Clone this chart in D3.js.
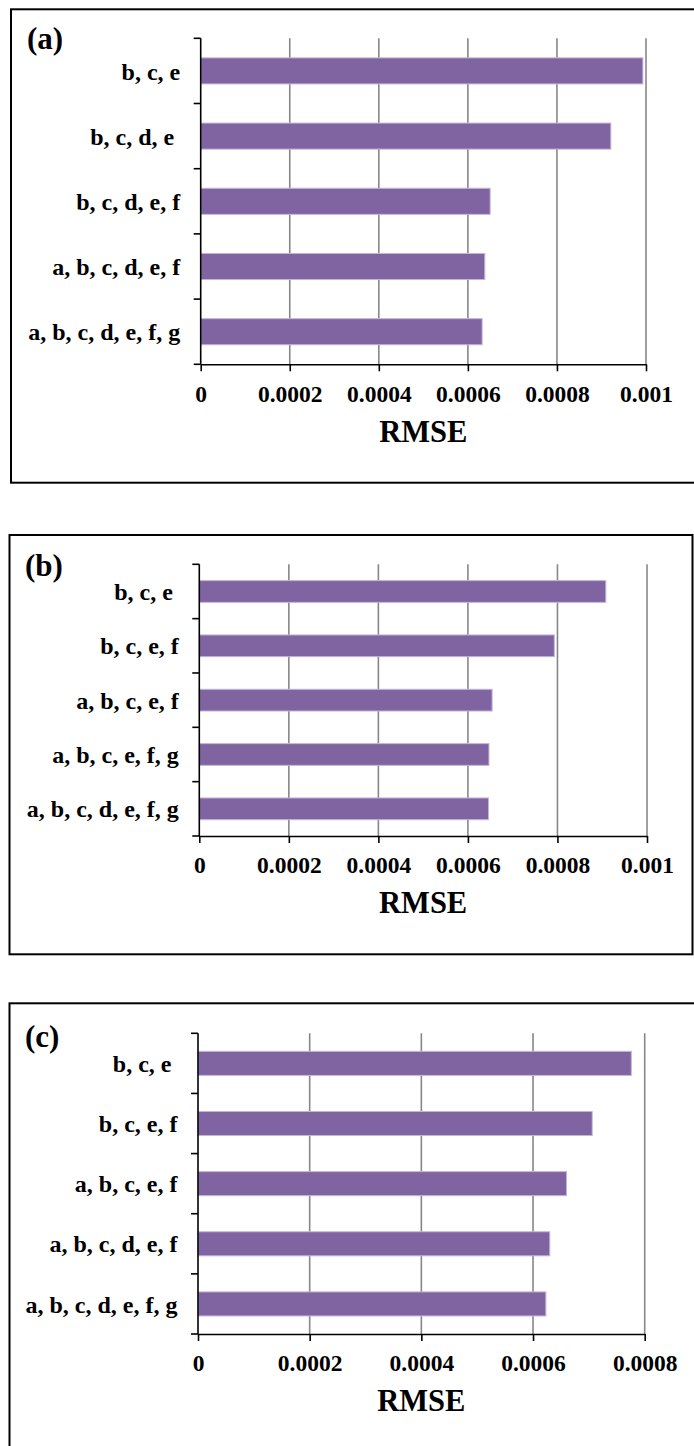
<!DOCTYPE html>
<html>
<head>
<meta charset="utf-8">
<script src="https://cdn.jsdelivr.net/npm/d3@7/dist/d3.min.js"></script>
<style>
  html, body { margin: 0; padding: 0; background: #fff; }
  svg { display: block; }
  text { font-family: "Liberation Serif", "Times New Roman", serif; font-weight: bold; fill: #000; white-space: pre; }
</style>
</head>
<body>
<svg id="chart" width="694" height="1446"></svg>
<script>
// ---------- DATA ----------
const panelLetters = ["(a)", "(b)", "(c)"];
const axisTitle = "RMSE";

const categoriesA = ["b, c, e", "b, c, d, e ", "b, c, d, e, f", "a, b, c, d, e, f", "a, b, c, d, e, f, g"];
const valuesA = [0.000993, 0.000921, 0.000650, 0.000638, 0.000632];
const ticksA = [0, 0.0002, 0.0004, 0.0006, 0.0008, 0.001];
const tickLabelsA = ["0", "0.0002", "0.0004", "0.0006", "0.0008", "0.001"];

const categoriesB = ["b, c, e ", "b, c, e, f", "a, b, c, e, f", "a, b, c, e, f, g", "a, b, c, d, e, f, g"];
const valuesB = [0.000908, 0.000793, 0.000654, 0.000647, 0.000646];
const ticksB = [0, 0.0002, 0.0004, 0.0006, 0.0008, 0.001];
const tickLabelsB = ["0", "0.0002", "0.0004", "0.0006", "0.0008", "0.001"];

const categoriesC = ["b, c, e ", "b, c, e, f", "a, b, c, e, f", "a, b, c, d, e, f", "a, b, c, d, e, f, g"];
const valuesC = [0.000776, 0.000706, 0.000660, 0.000630, 0.000623];
const ticksC = [0, 0.0002, 0.0004, 0.0006, 0.0008];
const tickLabelsC = ["0", "0.0002", "0.0004", "0.0006", "0.0008"];

// ---------- LAYOUT ----------
const panels = [
  { letter: panelLetters[0], cats: categoriesA, vals: valuesA, ticks: ticksA, tickLabels: tickLabelsA,
    box: { x: 11, y: 9.3, r: 720, b: 482.7 },
    plot: { left: 200.7, right: 646, top: 38.3, bottom: 364.3 }, letterPos: [27, 49] },
  { letter: panelLetters[1], cats: categoriesB, vals: valuesB, ticks: ticksB, tickLabels: tickLabelsB,
    box: { x: 9.5, y: 535, r: 692.5, b: 954.3 },
    plot: { left: 199.3, right: 647, top: 564.3, bottom: 836 }, letterPos: [25, 576] },
  { letter: panelLetters[2], cats: categoriesC, vals: valuesC, ticks: ticksC, tickLabels: tickLabelsC,
    box: { x: 9.5, y: 1003.3, r: 720, b: 1480 },
    plot: { left: 198, right: 644.7, top: 1033.3, bottom: 1334 }, letterPos: [25, 1046.5] }
];

const svg = d3.select("#chart");

panels.forEach(p => {
  const g = svg.append("g");
  const domainMax = p.ticks[p.ticks.length - 1];

  // border
  g.append("rect")
    .attr("x", p.box.x).attr("y", p.box.y)
    .attr("width", p.box.r - p.box.x).attr("height", p.box.b - p.box.y)
    .attr("fill", "none").attr("stroke", "#000").attr("stroke-width", 2);

  const x = d3.scaleLinear().domain([0, domainMax]).range([p.plot.left, p.plot.right]);
  const y = d3.scaleBand().domain(p.cats).range([p.plot.top, p.plot.bottom])
    .paddingInner(0.6).paddingOuter(0.3);

  // gridlines
  g.append("g").selectAll("line")
    .data(p.ticks.filter(t => t > 0))
    .join("line")
    .attr("x1", d => x(d)).attr("x2", d => x(d))
    .attr("y1", p.plot.top).attr("y2", p.plot.bottom)
    .attr("stroke", "#878787").attr("stroke-width", 1.6);

  // bars
  g.append("g").selectAll("rect")
    .data(p.cats.map((c, i) => ({ c, v: p.vals[i] })))
    .join("rect")
    .attr("x", x(0)).attr("y", d => y(d.c))
    .attr("width", d => x(d.v) - x(0)).attr("height", y.bandwidth())
    .attr("fill", "#8064A2").attr("stroke", "#c3b6d8").attr("stroke-width", 1);

  // x axis
  const xAxis = d3.axisBottom(x).tickValues(p.ticks)
    .tickFormat((d, i) => p.tickLabels[i]).tickSize(7).tickSizeOuter(0);
  const xg = g.append("g").attr("transform", `translate(0,${p.plot.bottom})`).call(xAxis);
  xg.select(".domain").attr("stroke", "#000").attr("stroke-width", 1.6);
  xg.selectAll(".tick line").attr("stroke", "#000").attr("stroke-width", 1.6);
  xg.selectAll(".tick text").attr("y", 37.4).attr("dy", null)
    .style("font-size", "23.5px").style("font-family", '"Liberation Serif", serif').style("font-weight", "bold");

  // y axis line and boundary ticks
  const boundaries = p.cats.map(c => y(c) - y.step() * y.paddingOuter()).concat([p.plot.bottom]);
  g.append("line")
    .attr("x1", x(0)).attr("x2", x(0)).attr("y1", p.plot.top).attr("y2", p.plot.bottom)
    .attr("stroke", "#000").attr("stroke-width", 1.6);
  g.append("g").selectAll("line").data(boundaries).join("line")
    .attr("x1", x(0) - 7).attr("x2", x(0)).attr("y1", d => d).attr("y2", d => d)
    .attr("stroke", "#000").attr("stroke-width", 1.6);

  // category labels
  const yAxis = d3.axisLeft(y).tickSize(0).tickPadding(20.5);
  const yg = g.append("g").attr("transform", `translate(${x(0)},0)`).call(yAxis);
  yg.select(".domain").remove();
  yg.selectAll(".tick text").attr("dy", "0.36em")
    .style("font-size", "24px").style("font-family", '"Liberation Serif", serif').style("font-weight", "bold")
    .style("white-space", "pre");

  // axis title
  g.append("text")
    .attr("x", (p.plot.left + p.plot.right) / 2).attr("y", p.plot.bottom + 77.4)
    .attr("text-anchor", "middle").style("font-size", "30.5px")
    .text(axisTitle);

  // panel letter
  g.append("text")
    .attr("x", p.letterPos[0]).attr("y", p.letterPos[1])
    .style("font-size", "31px")
    .text(p.letter);
});
</script>
</body>
</html>
